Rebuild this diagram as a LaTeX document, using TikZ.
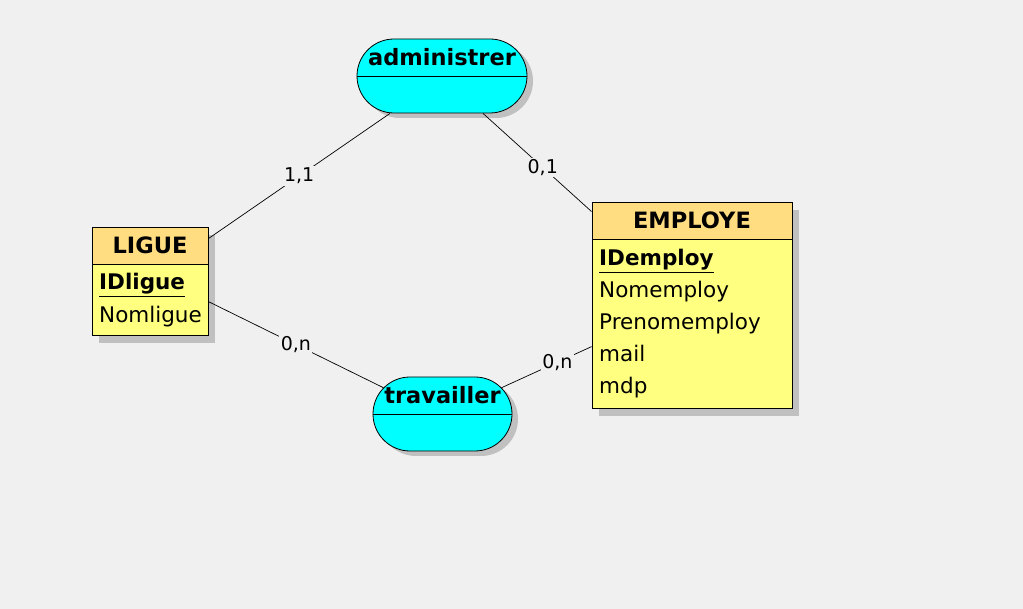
\documentclass[tikz,border=0pt]{standalone}
\usepackage{fontspec}
\setmainfont{DejaVu Sans}
\usetikzlibrary{shapes.misc,shadows,calc}
\definecolor{pagebg}{HTML}{F0F0F0}
\definecolor{enthead}{HTML}{FFDD80}
\definecolor{entbody}{HTML}{FFFF80}
\definecolor{assocfill}{HTML}{00FFFF}
\definecolor{shadowgray}{HTML}{C0C0C0}
\newcommand{\titlefont}{\fontsize{22.5}{27}\selectfont\bfseries}
\newcommand{\attrfont}{\fontsize{21.5}{25}\selectfont}
\newcommand{\cardfont}{\fontsize{19}{23}\selectfont}

\begin{document}
\begin{tikzpicture}[x=1pt,y=-1pt]
\tikzstyle{every node}+=[inner sep=0pt]
\tikzstyle{entity}=[draw=black, line width=0.8pt, fill=entbody, rectangle,
  drop shadow={shadow xshift=7pt, shadow yshift=-8pt, fill=shadowgray, opacity=1}]
\tikzstyle{entitle}=[draw=black, line width=0.8pt, fill=enthead, rectangle,
  minimum height=37pt, font=\titlefont]
\tikzstyle{attr}=[anchor=base west, font=\attrfont]
\tikzstyle{assoc}=[draw=black, line width=0.8pt, fill=assocfill, rounded rectangle,
  minimum height=74pt,
  drop shadow={shadow xshift=6pt, shadow yshift=-5pt, fill=shadowgray, opacity=1}]
\tikzstyle{card}=[fill=pagebg, inner sep=1.5pt, font=\cardfont]
\tikzstyle{link}=[line width=0.7pt, black]
\fill [pagebg] (0,0) rectangle (1023,609);
\useasboundingbox (0,0) rectangle (1023,609);
% entities
\node [entity, minimum width=116pt, minimum height=108pt] (ligue) at (150,281) {};
\node [entitle, minimum width=116pt, anchor=north] (liguehead) at (ligue.north) {LIGUE};
\node [attr] (idligue) at (99,290) {\textbf{\underline{IDligue}}};
\node [attr] (nomligue) at (99,323) {Nomligue};
\node [entity, minimum width=200pt, minimum height=206pt] (employe) at (692,305) {};
\node [entitle, minimum width=200pt, anchor=north] (employehead) at (employe.north) {EMPLOYE};
\node [attr] (idemploy) at (599,266) {\textbf{\underline{IDemploy}}};
\node [attr] (nomemploy) at (599,298) {Nomemploy};
\node [attr] (prenomemploy) at (599,330) {Prenomemploy};
\node [attr] (mail) at (599,362) {mail};
\node [attr] (mdp) at (599,394) {mdp};
% associations
\node [assoc, minimum width=170pt] (adm) at (442,76) {};
\draw [line width=0.8pt] (adm.west) -- (adm.east);
\node [anchor=base, font=\titlefont] (admtitle) at ($(adm.center)+(0,-10)$) {administrer};
\node [assoc, minimum width=139pt] (trav) at (442.5,414) {};
\draw [line width=0.8pt] (trav.west) -- (trav.east);
\node [anchor=base, font=\titlefont] (travtitle) at ($(trav.center)+(0,-10)$) {travailler};
% links
\draw [link] ($(ligue.north east)+(0,12)$) -- node [card] {1,1} ($(adm.south)+(-52,0)$);
\draw [link] ($(adm.south)+(41,0)$) -- node [card, pos=0.55] {0,1} ($(employe.north west)+(0,10)$);
\draw [link] ($(ligue.north east)+(0,75)$) -- node [card] {0,n} (trav.156);
\draw [link] (trav.24) -- node [card, pos=0.62] {0,n} ($(employe.north west)+(0,145)$);
\end{tikzpicture}
\end{document}
